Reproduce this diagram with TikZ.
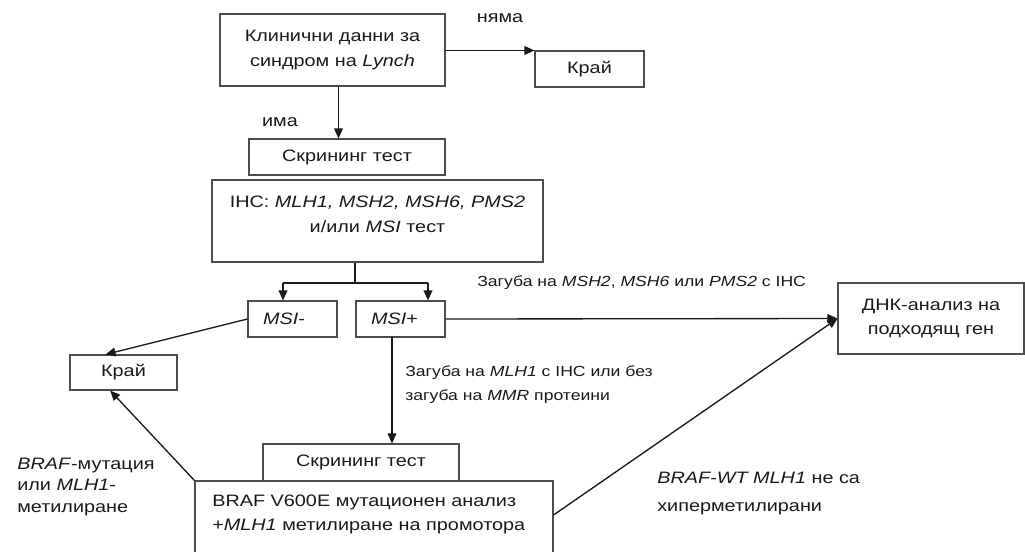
\documentclass[tikz,border=0pt]{standalone}
\usepackage{fontspec}
\setmainfont{Liberation Sans}[FakeStretch=1.2]
\usetikzlibrary{arrows.meta}
\begin{document}
\begin{tikzpicture}[x=0.75pt,y=-0.75pt,
  box/.style={draw=black!70,line width=0.8pt,inner sep=0pt,align=center,
    font=\fontsize{12.4}{18.5}\selectfont,text=black!90},
  msibox/.style={box,minimum width=66.75pt,minimum height=27pt,
    text width=44.25pt,inner xsep=11.25pt,align=left},
  txt/.style={inner sep=0pt,font=\fontsize{12.4}{18.5}\selectfont,text=black!90},
  smalltxt/.style={inner sep=0pt,font=\fontsize{11}{18.5}\selectfont,text=black!90},
  conn/.style={line width=1pt,black!90},
  arr/.style={conn,-{Triangle[length=7.5pt,width=6.5pt]}}]
\useasboundingbox (0,0) rectangle (1025,551);
\clip (0,0) rectangle (1025,551);

% boxes
\node[box,minimum width=168.75pt,minimum height=54pt] (b1) at (332.5,50)
  {Клинични данни за\\синдром на \textit{Lynch}};
\node[box,minimum width=81.75pt,minimum height=27pt] (kr1) at (589.5,69) {Край};
\node[box,minimum width=147pt,minimum height=27pt] (scr1) at (347,157) {Скрининг тест};
\node[box,minimum width=248.25pt,minimum height=61.5pt] (ihc) at (377.5,221) {};
\node[txt,align=center] (ihctext) at (377.5,214.5)
  {IHC: \textit{MLH1, MSH2, MSH6, PMS2}\\и/или \textit{MSI} тест};
\node[msibox] (msim) at (292.5,319) {\textit{MSI}-};
\node[msibox] (msip) at (400.5,319) {\textit{MSI}+};
\node[box,minimum width=80.25pt,minimum height=26.25pt] (kr2) at (123.5,372.5) {Край};
\node[box,minimum width=147pt,minimum height=27.75pt] (scr2) at (361,462.5) {Скрининг тест};
\node[box,minimum width=268.5pt,minimum height=54pt] (braf) at (374,517) {};
\node[txt,anchor=west,align=left] (braftext) at (212,514.5)
  {BRAF V600E мутационен анализ\\+\textit{MLH1} метилиране на промотора};
\node[box,minimum width=139.5pt,minimum height=53.25pt] (dna) at (931,318.5)
  {ДНК-анализ на\\подходящ ген};

% labels
\node[txt] (nyama) at (500,18) {няма};
\node[txt] (ima) at (280,122) {има};
\node[smalltxt,anchor=west] (lossA) at (477,283)
  {Загуба на \textit{MSH2}, \textit{MSH6} или \textit{PMS2} с IHC};
\node[smalltxt,anchor=west,align=left] (lossB) at (405,384.5)
  {Загуба на \textit{MLH1} с IHC или без\\загуба на \textit{MMR} протеини};
\node[txt,anchor=west,align=left,font=\fontsize{12.4}{16}\selectfont] (leftlab) at (17,487)
  {\textit{BRAF}-мутация\\или \textit{MLH1}-\\метилиране};
\node[txt,anchor=west,align=left,font=\fontsize{12.4}{21}\selectfont] (wtlab) at (657,494)
  {\textit{BRAF-WT MLH1} не са\\хиперметилирани};

% connectors
\draw[arr] (kr1.north west -| b1.east) -- (kr1.north west);
\draw[arr] ([xshift=4.5pt]b1.south) -- ([xshift=4.5pt]b1.south |- scr1.north);
\coordinate (split) at (355,283);
\coordinate (sl) at (283,283);
\coordinate (sr) at (428,283);
\draw[conn] (ihc.south -| split) -- (split);
\draw[conn] (sl) -- (sr);
\draw[arr] (sl) -- (sl |- msim.north);
\draw[arr] (sr) -- (sr |- msip.north);
\draw[arr] (msim.west) -- ([xshift=-13.5pt]kr2.north);
\draw[arr] (braf.north west) -- ([xshift=-10pt]kr2.south);
\coordinate (msidown) at (392,337);
\draw[arr] (msidown) -- (msidown |- scr2.north);
\draw[arr] (msip.east) -- (dna.west);
\draw[arr] ([yshift=1.5pt]braf.east) -- (dna.west);
\end{tikzpicture}
\end{document}
